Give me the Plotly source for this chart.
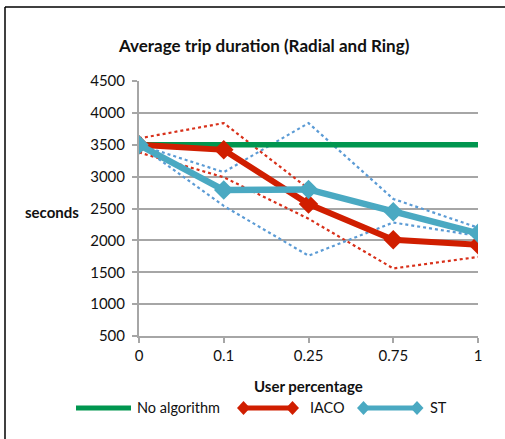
import plotly.graph_objects as go

# ---- data ----
user_pct = ["0", "0.1", "0.25", "0.75", "1"]
no_algorithm = [3500, 3500, 3500, 3500, 3500]
iaco = [3500, 3420, 2570, 2010, 1930]
iaco_upper = [3600, 3840, 2810, 2480, 2120]
iaco_lower = [3380, 2990, 2340, 1560, 1740]
st = [3500, 2790, 2800, 2450, 2110]
st_upper = [3500, 3070, 3840, 2650, 2200]
st_lower = [3500, 2540, 1760, 2280, 2070]
y_ticks = [500, 1000, 1500, 2000, 2500, 3000, 3500, 4000, 4500]
series_names = ["No algorithm", "IACO", "ST"]

# ---- layout geometry (pixels) ----
W, H = 505, 439
L, R, T, B = 139, 27, 81, 103
PW, PH = W - L - R, H - T - B


def px(x):
    return (x - L) / PW


def py(y):
    return (H - B - y) / PH


FONT = "Lato, 'Open Sans', sans-serif"
GREEN = "#00964f"
RED = "#d01e00"
TEAL = "#4aa9c2"
RED_DOT = "#d8301a"
BLUE_DOT = "#5b9bd5"
GRID = "#a6a6a6"
TXT = "#111"

fig = go.Figure()

# range bounds as dotted lines
for vals, col in [(iaco_upper, RED_DOT), (iaco_lower, RED_DOT),
                  (st_upper, BLUE_DOT), (st_lower, BLUE_DOT)]:
    fig.add_trace(go.Scatter(x=user_pct, y=vals, mode="lines",
                             line=dict(color=col, width=2.2, dash="dot"),
                             showlegend=False, hoverinfo="skip"))

fig.add_trace(go.Scatter(x=user_pct, y=no_algorithm, mode="lines", name=series_names[0],
                         line=dict(color=GREEN, width=5.5), showlegend=False))
fig.add_trace(go.Scatter(x=user_pct, y=iaco, mode="lines+markers", name=series_names[1],
                         line=dict(color=RED, width=6), showlegend=False,
                         marker=dict(symbol="diamond", size=15, color=RED)))
fig.add_trace(go.Scatter(x=user_pct, y=st, mode="lines+markers", name=series_names[2],
                         line=dict(color=TEAL, width=6.5), showlegend=False,
                         marker=dict(symbol="diamond", size=15, color=TEAL)))

# ---- legend drawn as shapes + text (long line samples) ----
shapes = []
annotations = []
LEG_Y = 408


def diamond(cx, cy, hw=6.5, hh=7, color="black"):
    path = (f"M {px(cx - hw)} {py(cy)} L {px(cx)} {py(cy - hh)} "
            f"L {px(cx + hw)} {py(cy)} L {px(cx)} {py(cy + hh)} Z")
    return dict(type="path", xref="paper", yref="paper", path=path,
                fillcolor=color, line=dict(color=color, width=0))


legend_items = [
    (series_names[0], GREEN, 76, 131, False, 135),
    (series_names[1], RED, 243.5, 292.5, True, 308),
    (series_names[2], TEAL, 363.5, 417, True, 428),
]
for name, col, x0, x1, has_marker, tx in legend_items:
    shapes.append(dict(type="line", xref="paper", yref="paper",
                       x0=px(x0), x1=px(x1), y0=py(LEG_Y), y1=py(LEG_Y),
                       line=dict(color=col, width=5)))
    if has_marker:
        shapes.append(diamond(x0, LEG_Y, color=col))
        shapes.append(diamond(x1, LEG_Y, color=col))
    annotations.append(dict(text=name, xref="paper", yref="paper", x=px(tx), y=py(LEG_Y),
                            showarrow=False, xanchor="left", yanchor="middle",
                            font=dict(size=14.5, family=FONT, color=TXT)))

annotations += [
    dict(text="<b>Average trip duration (Radial and Ring)</b>", xref="paper", yref="paper",
         x=px(264), y=py(45), showarrow=False, xanchor="center", yanchor="middle",
         font=dict(size=17, family=FONT, color=TXT)),
    dict(text="<b>seconds</b>", xref="paper", yref="paper",
         x=px(52), y=py(212), showarrow=False, xanchor="center", yanchor="middle",
         font=dict(size=15, family=FONT, color=TXT)),
    dict(text="<b>User percentage</b>", xref="paper", yref="paper",
         x=px(308), y=py(386), showarrow=False, xanchor="center", yanchor="middle",
         font=dict(size=15, family=FONT, color=TXT)),
]

# outer frame (left and top edges)
shapes += [
    dict(type="line", xref="paper", yref="paper", x0=px(5), x1=px(5), y0=py(7), y1=py(H + 5),
         line=dict(color="black", width=1.5)),
    dict(type="line", xref="paper", yref="paper", x0=px(5), x1=px(W + 5), y0=py(7), y1=py(7),
         line=dict(color="black", width=1.5)),
]

fig.update_layout(
    width=W, height=H,
    margin=dict(l=L, r=R, t=T, b=B),
    paper_bgcolor="white", plot_bgcolor="white",
    font=dict(family=FONT, size=14, color=TXT),
    showlegend=False,
    xaxis=dict(type="category", range=[0, 4], showgrid=False,
               showline=True, linecolor=GRID, linewidth=2,
               ticks="outside", ticklen=5, tickcolor=GRID, tickwidth=2,
               tickfont=dict(size=15, family=FONT, color=TXT)),
    yaxis=dict(range=[500, 4500], tickvals=y_ticks, showgrid=True,
               gridcolor=GRID, gridwidth=2, zeroline=False,
               showline=True, linecolor=GRID, linewidth=2,
               ticks="outside", ticklen=5, tickcolor=GRID, tickwidth=2,
               ticklabelstandoff=4,
               tickfont=dict(size=15, family=FONT, color=TXT)),
    annotations=annotations,
    shapes=shapes,
)

fig.write_html("out.html")
